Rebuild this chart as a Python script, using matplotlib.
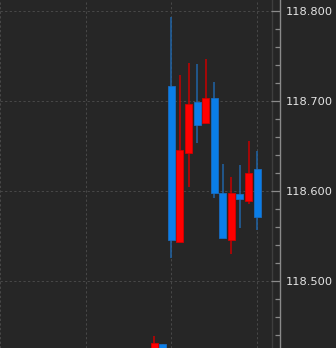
import matplotlib
matplotlib.use("Agg")
import matplotlib.pyplot as plt
from matplotlib.ticker import MultipleLocator, FormatStrFormatter
import numpy as np

# ---- data (OHLC, index = bar number) ----
idx = [18, 19, 20, 21, 22, 23, 24, 25, 26, 27, 28, 29, 30]
opens = [118.410, 118.430, 118.7166, 118.5436, 118.6424, 118.6994, 118.6754,
         118.7036, 118.5983, 118.5458, 118.5966, 118.5894, 118.6243]
highs = [118.4391, 118.4305, 118.7939, 118.7291, 118.7428, 118.7413, 118.7469,
         118.7213, 118.6302, 118.6161, 118.6294, 118.6561, 118.6447]
lows = [118.400, 118.400, 118.5261, 118.5436, 118.6050, 118.6532, 118.6754,
        118.5921, 118.5483, 118.5302, 118.5588, 118.5858, 118.5572]
closes = [118.4313, 118.410, 118.5458, 118.6458, 118.6969, 118.6739, 118.7036,
          118.5983, 118.5483, 118.5983, 118.5913, 118.6202, 118.5717]

BG = "#262626"
UP_BODY, UP_WICK, UP_EDGE = "#ff0000", "#c80000", "#d40000"
DN_BODY, DN_WICK, DN_EDGE = "#0a7ee8", "#2064a6", "#1a6cc0"

fig = plt.figure(figsize=(3.36, 3.48), dpi=100, facecolor=BG)
ax = fig.add_axes([0, 0, 272 / 336, 1], facecolor=BG)

o = np.array(opens); c = np.array(closes)
up = c >= o
x = np.array(idx)

# wicks
ax.vlines(x[up], np.array(lows)[up], np.array(highs)[up], color=UP_WICK, lw=1.1, zorder=2)
ax.vlines(x[~up], np.array(lows)[~up], np.array(highs)[~up], color=DN_WICK, lw=1.1, zorder=2)
# bodies
ax.bar(x[up], (c - o)[up], bottom=o[up], width=0.82, color=UP_BODY,
       edgecolor=UP_EDGE, linewidth=0.6, zorder=3)
ax.bar(x[~up], (c - o)[~up], bottom=o[~up], width=0.82, color=DN_BODY,
       edgecolor=DN_EDGE, linewidth=0.6, zorder=3)

ax.set_xlim(0, 272 / 8.57)
ax.set_ylim(118.42578, 118.81244)

ax.xaxis.set_major_locator(MultipleLocator(10))
ax.tick_params(axis="x", bottom=False, labelbottom=False)

ax.yaxis.set_major_locator(MultipleLocator(0.1))
ax.yaxis.set_minor_locator(MultipleLocator(0.02))
ax.yaxis.set_major_formatter(FormatStrFormatter("%.3f"))
ax.yaxis.tick_right()
ax.tick_params(axis="y", which="major", direction="in", length=6.5, width=0.9,
               color="#8a8a8a", pad=4.0, labelsize=8.2, labelcolor="#e4e4e4")
ax.tick_params(axis="y", which="minor", direction="in", length=3.6, width=0.9,
               color="#8a8a8a")
for lab in ax.get_yticklabels():
    lab.set_fontfamily(["Roboto", "DejaVu Sans"])

ax.grid(True, which="major", color="#474747", lw=0.75, ls=(0, (2.2, 2.2)))

for s in ["top", "bottom", "left"]:
    ax.spines[s].set_visible(False)
ax.spines["right"].set_position(("outward", 8 * 0.72))
ax.spines["right"].set_color("#8a8a8a")
ax.spines["right"].set_linewidth(1.0)

# plot-area border line at the right edge
ax.axvline(ax.get_xlim()[1], color="#3e3e3e", lw=1.0, clip_on=False, zorder=1)

fig.savefig("out.png", dpi=100, facecolor=BG)
